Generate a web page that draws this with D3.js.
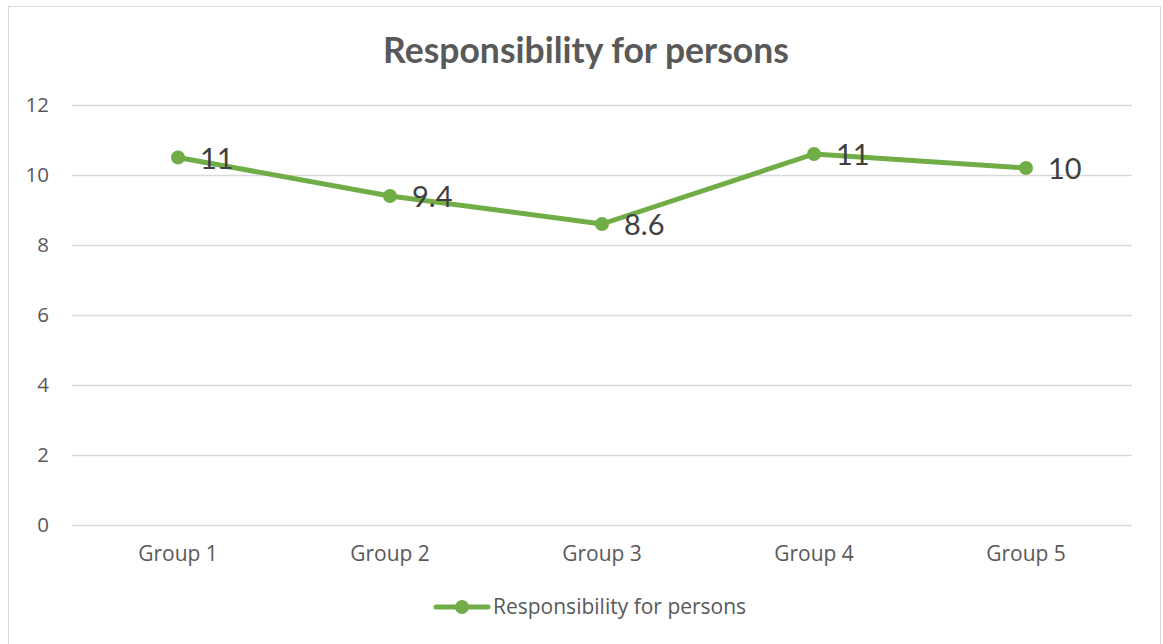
<!DOCTYPE html>
<html>
<head>
<meta charset="utf-8">
<script src="https://cdn.jsdelivr.net/npm/d3@7"></script>
<style>
  body { margin: 0; background: #fff; }
  svg { font-family: "Open Sans", "Liberation Sans", sans-serif; }
</style>
</head>
<body>
<svg width="1163" height="644"></svg>
<script>
var groups = ["Group 1", "Group 2", "Group 3", "Group 4", "Group 5"];
var values = [10.5, 9.4, 8.6, 10.6, 10.2];
var yTicks = [0, 2, 4, 6, 8, 10, 12];
var seriesName = "Responsibility for persons";

var svg = d3.select("svg"),
    width = 1163,
    height = 644,
    margin = {top: 105, right: 31, bottom: 119, left: 72},
    green = "#70ad47",
    grey = "#595959",
    tickFont = "'Open Sans', 'Liberation Sans', sans-serif";

// chart border
svg.append("rect")
    .attr("x", 8.5).attr("y", 6.5)
    .attr("width", 1152).attr("height", 660)
    .attr("fill", "#fff")
    .attr("stroke", "#d9d9d9");

var x = d3.scaleBand()
    .domain(groups)
    .range([margin.left, width - margin.right]);

var y = d3.scaleLinear()
    .domain([0, 12])
    .range([height - margin.bottom, margin.top]);

// gridlines
svg.append("g")
  .selectAll("line")
  .data(yTicks)
  .enter().append("line")
    .attr("x1", margin.left)
    .attr("x2", width - margin.right)
    .attr("y1", function(d) { return y(d) + 0.5; })
    .attr("y2", function(d) { return y(d) + 0.5; })
    .attr("stroke", "#d9d9d9")
    .attr("stroke-width", 1.3);

// y axis labels
var yAxis = svg.append("g")
    .attr("transform", "translate(" + (margin.left - 23) + ",0)")
    .call(d3.axisLeft(y).tickValues(yTicks).tickSize(0).tickPadding(0));
yAxis.select(".domain").remove();
yAxis.selectAll("text")
    .attr("fill", grey)
    .style("font-size", "20.5px")
    .style("font-family", tickFont);

// x axis labels
var xAxis = svg.append("g")
    .attr("transform", "translate(0," + (y(0) + 21) + ")")
    .call(d3.axisBottom(x).tickSize(0).tickPadding(0));
xAxis.select(".domain").remove();
xAxis.selectAll("text")
    .attr("fill", grey)
    .style("font-size", "21px")
    .style("font-family", tickFont);

var cx = function(d, i) { return x(groups[i]) + x.bandwidth() / 2; };

var line = d3.line()
    .x(cx)
    .y(function(d) { return y(d); });

svg.append("path")
    .datum(values)
    .attr("fill", "none")
    .attr("stroke", green)
    .attr("stroke-width", 5)
    .attr("stroke-linejoin", "round")
    .attr("stroke-linecap", "round")
    .attr("d", line);

svg.append("g")
  .selectAll("circle")
  .data(values)
  .enter().append("circle")
    .attr("cx", cx)
    .attr("cy", function(d) { return y(d); })
    .attr("r", 7)
    .attr("fill", green);

// data labels
var fmt = d3.format(".2");
svg.append("g")
  .selectAll("text")
  .data(values)
  .enter().append("text")
    .attr("x", function(d, i) { return cx(d, i) + 22; })
    .attr("y", function(d) { return y(d) + 1; })
    .attr("dy", "0.35em")
    .attr("fill", "#404040")
    .style("font-family", "Lato, sans-serif")
    .style("font-size", "29px")
    .text(function(d) { return fmt(d); });

// title
svg.append("text")
    .attr("x", 586)
    .attr("y", 63)
    .attr("text-anchor", "middle")
    .attr("fill", grey)
    .style("font-family", "Lato, sans-serif")
    .style("font-size", "35.5px")
    .style("font-weight", "bold")
    .text(seriesName);

// legend
var legend = svg.append("g").attr("transform", "translate(436,607)");
legend.append("line")
    .attr("x1", 0).attr("x2", 52)
    .attr("stroke", green)
    .attr("stroke-width", 5)
    .attr("stroke-linecap", "round");
legend.append("circle")
    .attr("cx", 26).attr("r", 7)
    .attr("fill", green);
legend.append("text")
    .attr("x", 57)
    .attr("dy", "0.35em")
    .attr("fill", grey)
    .style("font-size", "21px")
    .text(seriesName);
</script>
</body>
</html>
